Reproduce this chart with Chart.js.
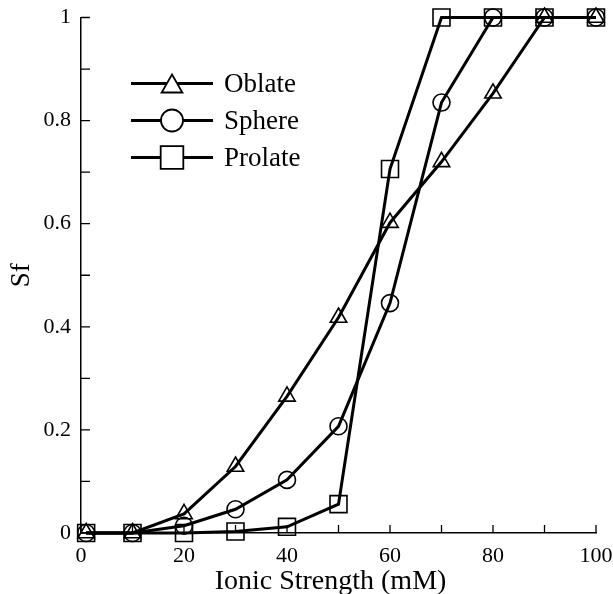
<!DOCTYPE html>
<html>
<head>
<meta charset="utf-8">
<script src="https://cdn.jsdelivr.net/npm/chart.js@4/dist/chart.umd.min.js"></script>
<style>
    html, body { margin: 0; padding: 0; background: #fff; }
    #wrap { width: 613px; height: 594px; }
</style>
</head>
<body>
<div id="wrap"><canvas id="sf-chart" width="613" height="594"></canvas></div>
<script>
// ionic strength (mM)
const ionicStrength = [1, 10, 20, 30, 40, 50, 60, 70, 80, 90, 100];
// Sf values
const oblate  = [0, 0, 0.037, 0.129, 0.265, 0.418, 0.602, 0.72, 0.853, 1, 1];
const sphere  = [0, 0, 0.014, 0.046, 0.103, 0.207, 0.446, 0.835, 1, 1, 1];
const prolate = [0, 0, 0, 0.003, 0.012, 0.056, 0.706, 1, 1, 1, 1];

const seriesNames = ['Oblate', 'Sphere', 'Prolate'];
const xTickLabels = ['0', '20', '40', '60', '80', '100'];
const yTickLabels = ['0', '0.2', '0.4', '0.6', '0.8', '1'];
const xTitle = 'Ionic Strength (mM)';
const yTitle = 'Sf';

const serif = "'Liberation Serif', 'Times New Roman', serif";

const markers = [
    { style: 'triangle', radius: 9.5, legendRadius: 12 },
    { style: 'circle', radius: 8.5, legendRadius: 11 },
    { style: 'rect', radius: 12, legendRadius: 16 }
];

function toPoints(values) {
    return ionicStrength.map((x, i) => ({ x: x, y: values[i] }));
}

function makeDataset(label, values, marker) {
    return {
        label: label,
        data: toPoints(values),
        borderColor: '#000',
        borderWidth: 3,
        pointStyle: marker.style,
        pointRadius: marker.radius,
        pointBorderColor: '#000',
        pointBorderWidth: 1.6,
        pointBackgroundColor: 'rgba(0,0,0,0)',
        tension: 0,
        fill: false,
        clip: false
    };
}

// inward tick marks on the left and bottom axes
const innerTicks = {
    id: 'innerTicks',
    afterDraw(chart) {
        const ctx = chart.ctx;
        const xs = chart.scales.x;
        const ys = chart.scales.y;
        const area = chart.chartArea;
        ctx.save();
        ctx.strokeStyle = '#000';
        ctx.lineWidth = 1.3;
        ctx.beginPath();
        xs.ticks.forEach(t => {
            const px = xs.getPixelForValue(t.value);
            ctx.moveTo(px, area.bottom);
            ctx.lineTo(px, area.bottom - 8);
        });
        ys.ticks.forEach(t => {
            const py = ys.getPixelForValue(t.value);
            ctx.moveTo(area.left, py);
            ctx.lineTo(area.left + 9, py);
        });
        ctx.stroke();
        ctx.restore();
    }
};

// x title sits a little left of centre and runs off the bottom edge
const xAxisTitle = {
    id: 'xAxisTitle',
    afterDraw(chart) {
        const ctx = chart.ctx;
        const area = chart.chartArea;
        ctx.save();
        ctx.font = '28px ' + serif;
        ctx.fillStyle = '#000';
        ctx.textAlign = 'center';
        ctx.textBaseline = 'alphabetic';
        ctx.fillText(xTitle, (area.left + area.right) / 2 - 8, area.bottom + 56);
        ctx.restore();
    }
};

// legend with the line running through the marker
const lineLegend = {
    id: 'lineLegend',
    afterDraw(chart) {
        const ctx = chart.ctx;
        const area = chart.chartArea;
        const x0 = area.left + 50;
        const x1 = area.left + 132;
        const mid = (x0 + x1) / 2;
        ctx.save();
        ctx.font = '27px ' + serif;
        ctx.textBaseline = 'middle';
        ctx.fillStyle = '#000';
        chart.data.datasets.forEach((ds, i) => {
            const y = area.top + 66 + i * 37;
            ctx.strokeStyle = '#000';
            ctx.lineWidth = 3;
            ctx.beginPath();
            ctx.moveTo(x0, y);
            ctx.lineTo(x1, y);
            ctx.stroke();
            ctx.lineWidth = 1.8;
            ctx.fillStyle = '#fff';
            Chart.helpers.drawPoint(ctx, {
                pointStyle: markers[i].style,
                radius: markers[i].legendRadius,
                rotation: 0,
                borderWidth: 1.8
            }, mid, markers[i].style === 'triangle' ? y + 3 : y);
            ctx.fillStyle = '#000';
            ctx.fillText(ds.label, x1 + 11, y + 1);
        });
        ctx.restore();
    }
};

new Chart(document.getElementById('sf-chart'), {
    type: 'line',
    data: {
        datasets: [
            makeDataset(seriesNames[0], oblate, markers[0]),
            makeDataset(seriesNames[1], sphere, markers[1]),
            makeDataset(seriesNames[2], prolate, markers[2])
        ]
    },
    options: {
        responsive: false,
        animation: false,
        layout: { padding: { top: 17.5, right: 17, bottom: 0, left: 0 } },
        scales: {
            x: {
                type: 'linear',
                min: 0,
                max: 100,
                afterFit(scale) {
                    scale.height = 61;
                    scale.paddingLeft = 0;
                    scale.paddingRight = 0;
                },
                grid: { display: false, drawTicks: false },
                border: { display: true, color: '#000', width: 1.5 },
                ticks: {
                    stepSize: 10,
                    padding: 10,
                    maxRotation: 0,
                    autoSkip: false,
                    color: '#000',
                    font: { family: serif, size: 22 },
                    callback: (v, i) => (i % 2 === 0 ? xTickLabels[i / 2] : '')
                },
                title: { display: false }
            },
            y: {
                min: 0,
                max: 1,
                afterFit(scale) {
                    scale.width = 81;
                    scale.paddingTop = 0;
                    scale.paddingBottom = 0;
                },
                grid: { display: false, drawTicks: false },
                border: { display: true, color: '#000', width: 1.5 },
                ticks: {
                    stepSize: 0.1,
                    padding: 10,
                    autoSkip: false,
                    color: '#000',
                    font: { family: serif, size: 22 },
                    callback: (v, i) => (i % 2 === 0 ? yTickLabels[i / 2] : '')
                },
                title: {
                    display: true,
                    text: yTitle,
                    color: '#000',
                    font: { family: serif, size: 27 },
                    padding: { top: 6, bottom: 0 }
                }
            }
        },
        plugins: {
            legend: { display: false },
            tooltip: { enabled: false }
        }
    },
    plugins: [innerTicks, xAxisTitle, lineLegend]
});
</script>
</body>
</html>
